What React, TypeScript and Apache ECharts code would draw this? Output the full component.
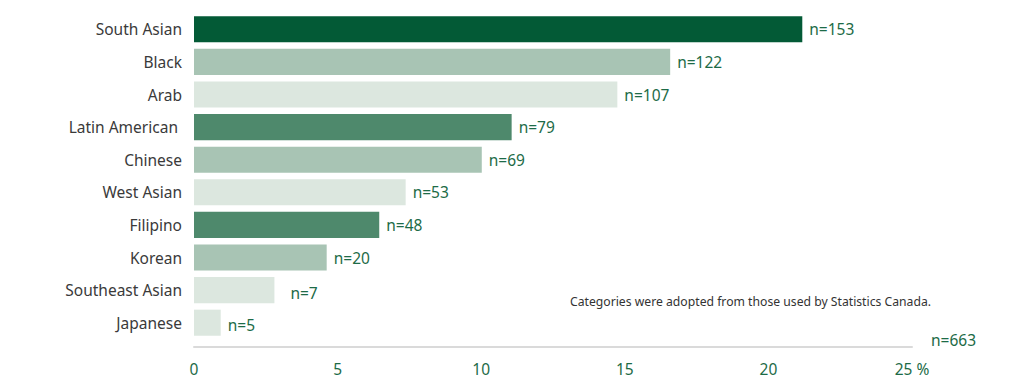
import React, { useEffect, useRef } from "react";
import * as echarts from "echarts";

const categories = [
  "South Asian",
  "Black",
  "Arab",
  "Latin American ",
  "Chinese",
  "West Asian",
  "Filipino",
  "Korean",
  "Southeast Asian",
  "Japanese",
];
const percents = [21.18, 16.58, 14.74, 11.06, 10.02, 7.37, 6.45, 4.62, 2.8, 0.93];
const counts = [153, 122, 107, 79, 69, 53, 48, 20, 7, 5];
const totalLabel = "n=663";
const noteText = "Categories were adopted from those used by Statistics Canada.";
const xTicks = [0, 5, 10, 15, 20, 25];

const DARK = "#035a36";
const MED = "#4e896c";
const LIGHT = "#a8c4b4";
const PALE = "#dce7df";
const barColors = [DARK, LIGHT, PALE, MED, LIGHT, PALE, MED, LIGHT, PALE, PALE];
const GREEN_TEXT = "#1d6b47";
const FONT = "'Noto Sans', sans-serif";

export default function App() {
  const ref = useRef<HTMLDivElement>(null);
  useEffect(() => {
    if (!ref.current) return;
    const chart = echarts.init(ref.current, null, { renderer: "svg" });
    chart.setOption({
      animation: false,
      textStyle: { fontFamily: FONT },
      grid: { left: 194, right: 112, top: 13, bottom: 53, containLabel: false },
      xAxis: {
        type: "value",
        min: xTicks[0],
        max: xTicks[xTicks.length - 1],
        interval: 5,
        offset: 8,
        splitLine: { show: false },
        axisTick: { show: false },
        axisLine: { show: true, lineStyle: { color: "#dadada", width: 2 } },
        axisLabel: {
          color: GREEN_TEXT,
          fontSize: 15.5,
          fontFamily: FONT,
          margin: 14,
          formatter: (v: number) => (v === 25 ? "25 %" : String(v)),
        },
      },
      yAxis: {
        type: "category",
        data: categories,
        inverse: true,
        axisLine: { show: false },
        axisTick: { show: false },
        axisLabel: { color: "#3a3a3a", fontSize: 15.5, fontFamily: FONT, margin: 12 },
      },
      series: [
        {
          type: "bar",
          barCategoryGap: "20%",
          data: percents.map((v, i) => ({
            value: v,
            itemStyle: { color: barColors[i] },
            label:
              i === 8
                ? { distance: 16, offset: [0, 3] }
                : i === 9
                ? { offset: [0, 2] }
                : undefined,
          })),
          label: {
            show: true,
            position: "right",
            distance: 7,
            color: GREEN_TEXT,
            fontSize: 15.5,
            fontFamily: FONT,
            formatter: (p: any) => "n=" + counts[p.dataIndex],
          },
        },
      ],
      graphic: [
        {
          type: "text",
          left: 931,
          top: 332,
          style: { text: totalLabel, fill: GREEN_TEXT, font: `15.5px ${FONT}` },
        },
        {
          type: "text",
          left: 570,
          top: 295,
          style: { text: noteText, fill: "#333333", font: `12.2px ${FONT}` },
        },
      ],
    });
    return () => chart.dispose();
  }, []);
  return <div ref={ref} style={{ width: 1024, height: 392, position: "absolute", left: 0, top: 0 }} />;
}
